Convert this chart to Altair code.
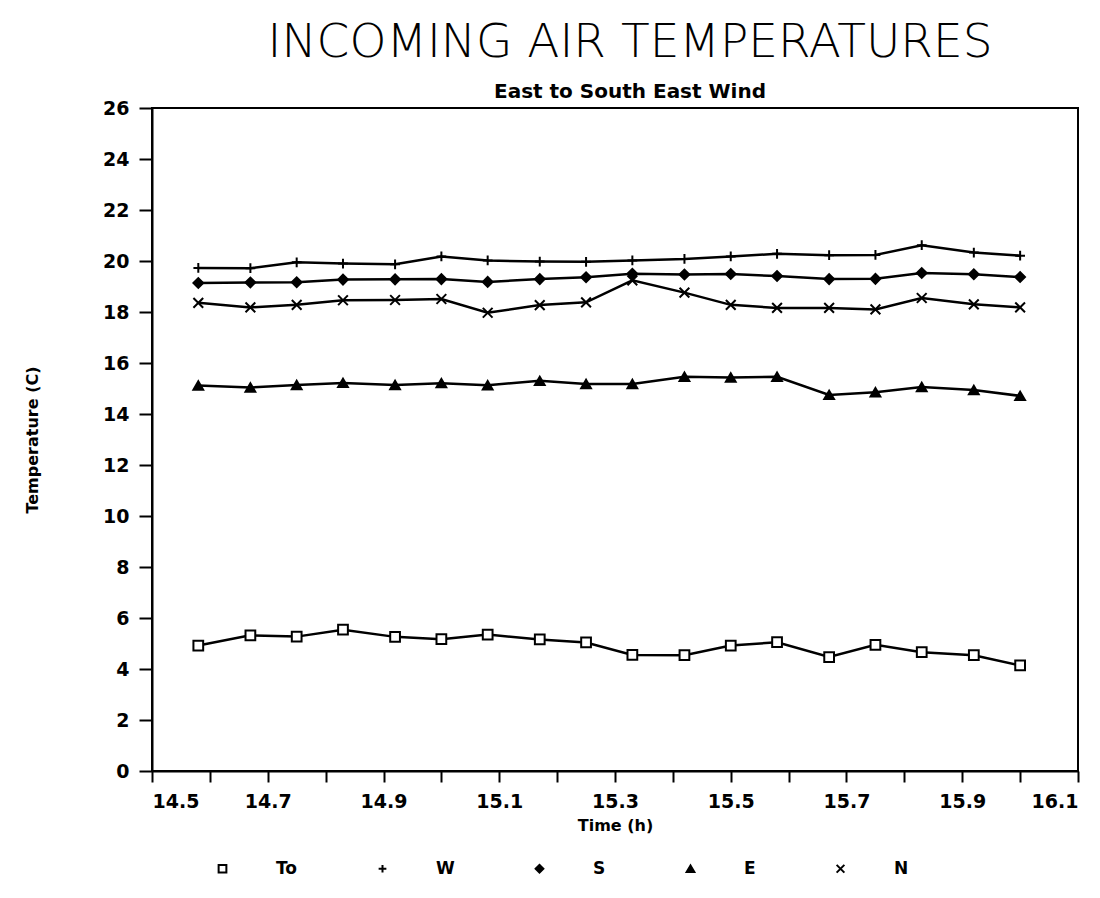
import altair as alt
import pandas as pd

# Time (h) of each reading
times = [14.58, 14.67, 14.75, 14.83, 14.92, 15.00, 15.08, 15.17, 15.25,
         15.33, 15.42, 15.50, 15.58, 15.67, 15.75, 15.83, 15.92, 16.00]

# Temperatures (C)
to_vals = [4.92, 5.32, 5.27, 5.54, 5.26, 5.17, 5.35, 5.16, 5.04,
           4.55, 4.54, 4.92, 5.05, 4.47, 4.95, 4.66, 4.54, 4.14]
w_vals = [19.73, 19.72, 19.95, 19.90, 19.87, 20.18, 20.02, 19.98, 19.97,
          20.02, 20.08, 20.18, 20.28, 20.23, 20.24, 20.62, 20.33, 20.21]
s_vals = [19.14, 19.16, 19.17, 19.27, 19.28, 19.29, 19.18, 19.29, 19.36,
          19.50, 19.47, 19.49, 19.41, 19.29, 19.30, 19.53, 19.48, 19.37]
e_vals = [15.12, 15.04, 15.14, 15.22, 15.14, 15.21, 15.13, 15.30, 15.18,
          15.18, 15.46, 15.43, 15.46, 14.75, 14.85, 15.06, 14.94, 14.71]
n_vals = [18.36, 18.18, 18.28, 18.46, 18.47, 18.51, 17.97, 18.27, 18.38,
          19.24, 18.76, 18.28, 18.16, 18.16, 18.10, 18.55, 18.30, 18.18]

series_names = ["To", "W", "S", "E", "N"]
series_values = [to_vals, w_vals, s_vals, e_vals, n_vals]

x_ticks = [14.5, 14.6, 14.7, 14.8, 14.9, 15.0, 15.1, 15.2, 15.3, 15.4,
           15.5, 15.6, 15.7, 15.8, 15.9, 16.0, 16.1]
y_ticks = [0, 2, 4, 6, 8, 10, 12, 14, 16, 18, 20, 22, 24, 26]

rows = []
for name, vals in zip(series_names, series_values):
    for t, v in zip(times, vals):
        rows.append({"time": t, "temp": v, "series": name})
df = pd.DataFrame(rows)

PLUS = "M-1,0L1,0M0,-1L0,1"
CROSS = "M-1,-1L1,1M-1,1L1,-1"
shapes = ["square", PLUS, "diamond", "triangle-up", CROSS]
fills = ["white", "transparent", "black", "black", "transparent"]
strokes = ["black", "black", "black", "black", "black"]

FONT = "DejaVu Sans"

x_enc = alt.X("time:Q",
              scale=alt.Scale(domain=[14.5, 16.1], nice=False, zero=False),
              axis=alt.Axis(values=x_ticks, title="Time (h)",
                            labelExpr="(round(datum.value*10) % 2 == 1) ? format(datum.value, '.1f') : ''",
                            tickSize=11, labelPadding=10, titlePadding=6))
y_enc = alt.Y("temp:Q",
              scale=alt.Scale(domain=[0, 26], nice=False),
              axis=alt.Axis(values=y_ticks, title="Temperature (C)",
                            tickSize=13, labelPadding=10, titlePadding=62))

legend = alt.Legend(orient="none", legendX=62, legendY=752, direction="horizontal",
                    title=None, labelFont=FONT, labelFontSize=17, labelFontWeight="bold",
                    labelColor="black",
                    labelOffset=45, columnPadding=76, symbolSize=60,
                    symbolStrokeWidth=2, symbolStrokeColor="black")

base = alt.Chart(df)
lines = base.mark_line(color="black", strokeWidth=2.5).encode(
    x=x_enc, y=y_enc, detail="series:N"
)
points = base.mark_point(size=95, strokeWidth=2, opacity=1).encode(
    x=x_enc, y=y_enc,
    shape=alt.Shape("series:N", scale=alt.Scale(domain=series_names, range=shapes),
                    legend=legend),
    fill=alt.Fill("series:N", scale=alt.Scale(domain=series_names, range=fills),
                  legend=legend),
    stroke=alt.Stroke("series:N", scale=alt.Scale(domain=series_names, range=strokes),
                      legend=legend),
)

chart = alt.layer(lines, points).properties(
    width=926, height=663,
    autosize=alt.AutoSizeParams(type="none"),
    padding={"left": 152, "top": 108, "right": 22, "bottom": 127},
    background="white",
    title=alt.TitleParams(
        text="INCOMING AIR TEMPERATURES",
        subtitle="East to South East Wind",
        anchor="middle", dx=15, offset=-4,
        font=FONT, fontSize=47, fontWeight=300, color="black",
        subtitleFont=FONT, subtitleFontSize=20, subtitleFontWeight="bold",
        subtitleColor="black", subtitlePadding=15,
    ),
).configure_view(
    stroke="black", strokeWidth=2
).configure_axis(
    grid=False, domainColor="black", domainWidth=2, tickColor="black", tickWidth=2,
    labelFont=FONT, labelFontSize=19, labelFontWeight="bold", labelColor="black",
    titleFont=FONT, titleFontSize=16, titleFontWeight="bold", titleColor="black",
)

chart.save("out.html", embed_options={"renderer": "svg", "actions": False})
